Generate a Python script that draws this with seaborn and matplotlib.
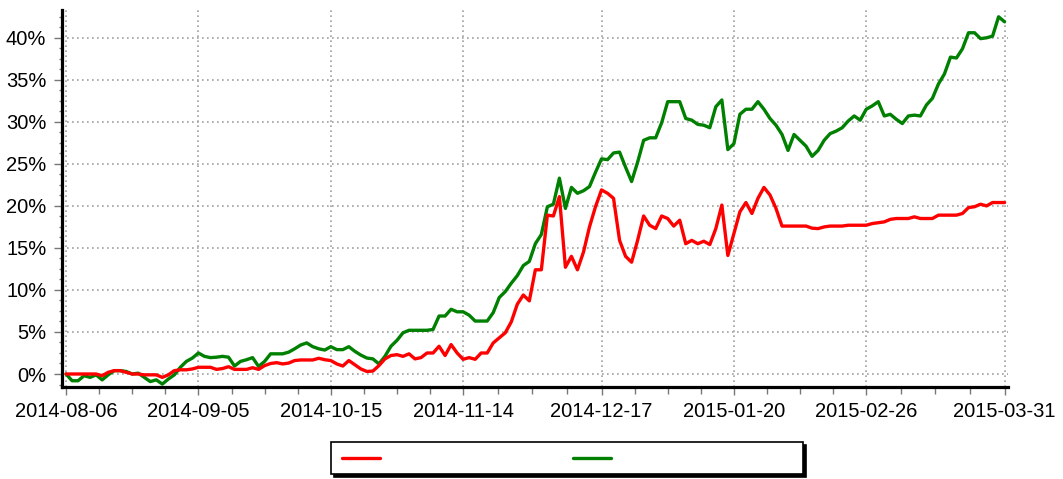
import numpy as np
import pandas as pd
import matplotlib
matplotlib.use('Agg')
import matplotlib.pyplot as plt
from matplotlib.ticker import FixedLocator, MultipleLocator, FuncFormatter
import seaborn as sns

# trading calendar (Shanghai / Shenzhen), Aug 2014 - Mar 2015
start_date = '2014-08-06'
end_date = '2015-03-31'
holidays = ['2014-09-08',
            '2014-10-01', '2014-10-02', '2014-10-03', '2014-10-06', '2014-10-07',
            '2015-01-01', '2015-01-02',
            '2015-02-18', '2015-02-19', '2015-02-20', '2015-02-23', '2015-02-24']
tick_dates = ['2014-08-06', '2014-09-05', '2014-10-15', '2014-11-14',
              '2014-12-17', '2015-01-20', '2015-02-26', '2015-03-31']

# cumulative return, percent
red_pct = [0.0, 0.0, 0.0, 0.0, 0.0, 0.0, -0.2, 0.2, 0.4, 0.4, 0.2, 0.0, 0.0, -0.1, -0.1,
           -0.1, -0.4, -0.1, 0.4, 0.5, 0.5, 0.6, 0.8, 0.8, 0.8,
           0.55, 0.65, 0.87, 0.55, 0.55, 0.55, 0.75, 0.55, 1.0, 1.25, 1.35, 1.2, 1.3, 1.6,
           1.67, 1.67, 1.67, 1.87, 1.7, 1.6, 1.2, 0.95, 1.6, 1.1, 0.6, 0.3, 0.35, 1.0, 1.8,
           2.2, 2.3, 2.1, 2.4, 1.8, 1.95, 2.5, 2.5, 3.3, 2.2, 3.5, 2.5, 1.75, 1.95, 1.75,
           2.5, 2.5, 3.7, 4.3, 4.9, 6.2, 8.3, 9.4, 8.7, 12.4, 12.4,
           18.9, 18.8, 21.1, 12.7, 14.0, 12.4, 14.5, 17.5, 19.9, 21.9, 21.5, 20.9, 15.9,
           14.0, 13.3, 15.9, 18.8, 17.7, 17.3, 18.8, 18.5, 17.6, 18.3, 15.5, 15.9, 15.5,
           15.8, 15.4, 17.3, 20.1, 14.1, 16.7, 19.3, 20.4, 19.1, 20.9, 22.2, 21.3, 19.7,
           17.6, 17.6, 17.6, 17.6, 17.6, 17.35, 17.3, 17.5, 17.6, 17.6, 17.6, 17.7, 17.7,
           17.7, 17.7, 17.9, 18.0, 18.1, 18.4, 18.5, 18.5, 18.5, 18.7, 18.5, 18.5, 18.5,
           18.9, 18.9, 18.9, 18.9, 19.1, 19.8, 19.9, 20.2, 20.0, 20.4, 20.4, 20.4]
green_pct = [0.0, -0.8, -0.8, -0.2, -0.4, -0.1, -0.7, -0.1, 0.4, 0.4, 0.3, 0.0, 0.1, -0.4,
             -0.9, -0.7, -1.2, -0.6, -0.1, 0.8, 1.5, 1.9, 2.5, 2.1, 1.95,
             2.0, 2.1, 2.0, 0.95, 1.5, 1.7, 1.95, 0.9, 1.5, 2.4, 2.4, 2.4, 2.6, 3.0, 3.45,
             3.7, 3.25, 3.0, 2.85, 3.25, 2.9, 2.9, 3.25, 2.7, 2.25, 1.9, 1.8, 1.2, 2.1,
             3.3, 4.0, 4.9, 5.2, 5.2, 5.2, 5.2, 5.3, 6.9, 6.9, 7.7, 7.4, 7.4, 7.0, 6.3, 6.3,
             6.3, 7.3, 9.1, 9.8, 10.8, 11.7, 12.9, 13.4, 15.5, 16.6,
             19.9, 20.2, 23.3, 19.7, 22.2, 21.5, 21.8, 22.3, 24.0, 25.6, 25.5, 26.3, 26.4,
             24.6, 22.9, 25.2, 27.8, 28.1, 28.1, 29.9, 32.4, 32.4, 32.4, 30.4, 30.2, 29.7,
             29.6, 29.3, 31.8, 32.6, 26.7, 27.4, 30.9, 31.5, 31.5, 32.4, 31.5, 30.4, 29.6,
             28.5, 26.6, 28.5, 27.8, 27.1, 25.9, 26.6, 27.8, 28.6, 28.9, 29.3, 30.1, 30.7,
             30.2, 31.5, 31.9, 32.4, 30.7, 30.9, 30.3, 29.8, 30.7, 30.8, 30.7, 32.0, 32.8,
             34.5, 35.7, 37.7, 37.6, 38.7, 40.6, 40.6, 39.9, 40.0, 40.2, 42.5, 41.9]

days = pd.bdate_range(start_date, end_date)
days = days[~days.isin(pd.to_datetime(holidays))]
df = pd.DataFrame({'day': np.arange(len(days)), 'red': red_pct, 'green': green_pct})
tick_pos = [int(np.where(days == pd.Timestamp(d))[0][0]) for d in tick_dates]
minor_pos = []
for a, b in zip(tick_pos[:-1], tick_pos[1:]):
    minor_pos += list(np.linspace(a, b, 5)[1:-1])

sns.set_style('white')
plt.rcParams['font.family'] = ['Liberation Sans', 'DejaVu Sans']

fig = plt.figure(figsize=(10.63, 4.79), dpi=100)
ax = fig.add_axes([0.0579, 0.192, 0.890, 0.787])

sns.lineplot(data=df, x='day', y='green', color='#008000', lw=2.4, ax=ax)
sns.lineplot(data=df, x='day', y='red', color='#ff0000', lw=2.4, ax=ax)

ax.set_xlim(-0.75, 156.5)
ax.set_ylim(-1.55, 43.3)
ax.xaxis.set_major_locator(FixedLocator(tick_pos))
ax.xaxis.set_minor_locator(FixedLocator(minor_pos))
ax.set_xticklabels(tick_dates)
ax.yaxis.set_major_locator(MultipleLocator(5))
ax.yaxis.set_minor_locator(MultipleLocator(1.25))
ax.yaxis.set_major_formatter(FuncFormatter(lambda v, p: f'{v:.0f}%'))
ax.set_xlabel('')
ax.set_ylabel('')

ax.set_axisbelow(True)
ax.grid(True, which='major', color='#a0a0a0', linestyle=(0, (1, 2)), lw=1.2)
for s in ['top', 'right']:
    ax.spines[s].set_visible(False)
for s in ['left', 'bottom']:
    ax.spines[s].set_color('black')
    ax.spines[s].set_linewidth(2.3)

ax.tick_params(which='both', bottom=True, left=True, direction='out', color='#777777', width=1)
ax.tick_params(which='major', length=6, labelsize=14.5, labelcolor='black', pad=5)
ax.tick_params(axis='x', which='minor', length=5)
ax.tick_params(axis='y', which='minor', length=2.5)

leg = ax.legend(handles=[ax.lines[1], ax.lines[0]], labels=['', ''], ncol=2,
                loc='upper left', bbox_to_anchor=(331 / 1063, 1 - 442 / 479),
                bbox_transform=fig.transFigure, borderaxespad=0, prop={'size': 7},
                handlelength=3.9, handletextpad=18.7, columnspacing=1.13, borderpad=1.13,
                frameon=True, fancybox=False, edgecolor='black', framealpha=1,
                shadow={'color': 'black', 'alpha': 1})
leg.get_frame().set_linewidth(1.2)

fig.savefig('out.png', dpi=100)
